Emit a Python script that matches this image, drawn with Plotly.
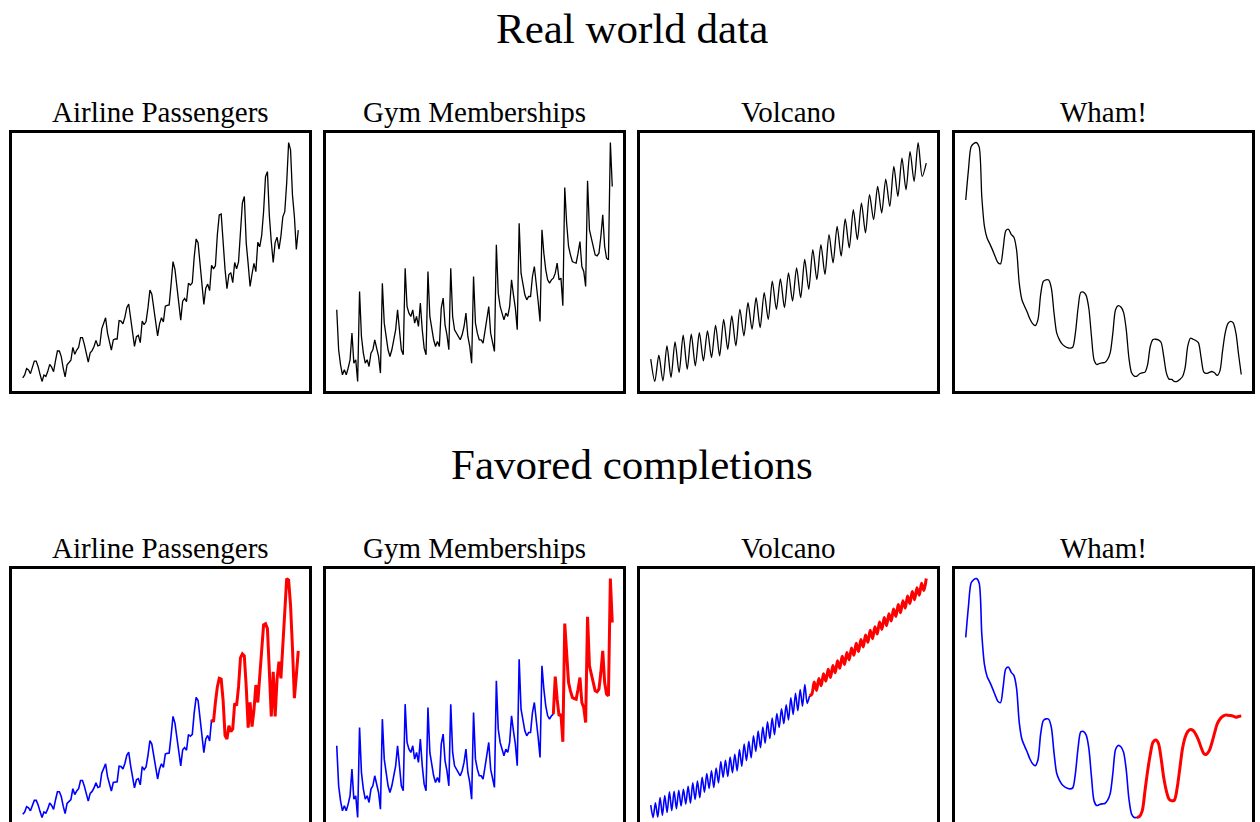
import plotly.graph_objects as go

# ---------------- data ----------------
panel_titles = ["Airline Passengers", "Gym Memberships", "Volcano", "Wham!"]
row_titles = ["Real world data", "Favored completions"]

airline = [112, 118, 132, 129, 121, 135, 148, 148, 136, 119, 104, 118,
           115, 126, 141, 135, 125, 149, 170, 170, 158, 133, 114, 140,
           145, 150, 178, 163, 172, 178, 199, 199, 184, 162, 146, 166,
           171, 180, 193, 181, 183, 218, 230, 242, 209, 191, 172, 194,
           196, 196, 236, 235, 229, 243, 264, 272, 237, 211, 180, 201,
           204, 188, 235, 227, 234, 264, 302, 293, 259, 229, 203, 229,
           242, 233, 267, 269, 270, 315, 364, 347, 312, 274, 237, 278,
           284, 277, 317, 313, 318, 374, 413, 405, 355, 306, 271, 306,
           315, 301, 356, 348, 355, 422, 465, 467, 404, 347, 305, 336,
           340, 318, 362, 348, 363, 435, 491, 505, 404, 359, 310, 337,
           360, 342, 406, 396, 420, 472, 548, 559, 463, 407, 362, 405,
           417, 391, 419, 461, 472, 535, 622, 606, 508, 461, 390, 432]
airline_split = 98
airline_pred = [356, 350, 400, 440, 462, 460, 405, 315, 306, 340, 325, 332,
                398, 392, 440, 515, 525, 520, 440, 335, 400, 338, 380, 445,
                400, 460, 540, 600, 603, 590, 480, 364, 479, 364, 460, 505,
                462, 560, 640, 719, 715, 650, 540, 411, 470, 533]

gym = [23, 11, 6.5, 3.5, 5, 3.5, 5.5, 8, 16, 7, 8, 1.5,
       28.5, 15, 10, 7, 8, 6, 10, 11, 14, 11, 9, 4,
       31, 19, 14.5, 11, 9, 11, 14, 17, 23, 16, 11, 9.5,
       35.5, 24, 22, 21, 23, 19, 21, 18, 25, 17, 11.5, 9.5,
       34.5, 21, 17.5, 14, 12, 13.5, 12, 23.5, 26.5, 18.5, 15.5, 11,
       35.5, 21, 17, 16, 15, 14, 15.5, 18, 22, 15, 12, 7,
       33, 19, 16, 14, 14, 13, 16.5, 20, 24, 16, 13.5, 10.5,
       42.5, 28, 24, 21.5, 20, 22, 21, 24, 32, 27.5, 23.5, 17,
       49, 34, 30.5, 27.5, 26, 27, 27, 33, 36, 29.5, 25.5, 19.5,
       47, 40, 35, 32, 31, 32, 32.5, 34, 37, 32, 32.5, 24.2,
       59.7, 49, 42, 39.5, 37.5, 37.2, 37, 40, 43.5, 36, 34.5, 30,
       61.7, 47, 44.5, 43, 39.5, 39.2, 40, 45, 51.5, 42, 38.5, 38,
       73.2, 60]
gym_split = 114
gym_pred = [32.5, 43.8, 37, 32, 32.5, 24.2,
            59.7, 49, 42, 39.5, 37.5, 37.2, 37, 40, 43.5, 36, 34.5, 30,
            61.7, 47, 44.5, 43, 39.5, 39.2, 40, 45, 51.5, 42, 38.5, 38,
            73.2, 60]

volcano = [338.0, 331.3, 339.2, 331.5, 342.0, 332.5, 343.2, 334.0, 345.2, 335.0,
           345.5, 336.0, 346.0, 337.5, 346.5, 338.5, 348.2, 339.0, 350.0, 341.0,
           351.0, 342.0, 353.0, 345.0, 355.0, 347.0, 356.5, 347.5, 358.0, 350.0,
           361.5, 353.0, 362.2, 353.5, 364.0, 355.5, 365.5, 356.5, 368.0, 359.0,
           371.0, 362.0, 372.5, 363.5, 375.5, 367.0, 378.0, 369.0, 380.2, 371.5,
           383.0, 374.0, 385.0, 376.0, 387.5, 380.0, 390.0, 382.0, 392.2, 384.0,
           396.0, 387.0, 398.5, 389.0, 400.5, 391.5, 403.2, 393.0, 397.0]
volcano_pred = [397.0,
                398.0, 404.5, 400.0, 406.5, 402.5, 409.0, 405.0, 411.5, 407.0, 413.5,
                409.5, 416.0, 412.0, 418.5, 414.0, 420.5, 416.5, 423.0, 419.0, 425.5,
                421.0, 427.5, 423.5, 430.0, 426.0, 432.5, 428.0, 434.5, 430.5, 437.0,
                433.0, 439.5, 435.0, 441.5, 437.5, 444.0, 440.0, 446.5, 442.0, 448.5,
                444.5, 451.0, 447.0, 453.5, 449.0, 455.5, 451.5, 458.0, 454.0, 460.5]

wham = [56.0, 65.0, 72.0, 73.0, 73.3, 72.0, 57.0, 48.0, 44.5, 42.8,
        41.0, 39.0, 37.2, 36.8, 41.5, 46.8, 47.2, 45.7, 44.8, 41.0,
        31.0, 26.0, 24.0, 22.2, 20.2, 18.8, 18.2, 20.0, 27.5, 31.5,
        32.0, 31.9, 29.5, 22.0, 16.0, 14.0, 12.7, 12.0, 11.6, 11.4,
        11.7, 16.0, 23.5, 28.2, 28.3, 27.3, 23.5, 15.0, 7.8, 6.5,
        6.8, 7.0, 7.1, 8.0, 10.0, 16.0, 23.0, 24.2, 23.8, 22.2,
        17.0, 8.5, 4.0, 3.0, 3.0, 3.7, 4.0, 4.2, 6.5, 12.0,
        14.0, 14.1, 13.9, 13.2, 9.0, 4.0, 2.1, 2.0, 1.4, 1.4,
        2.0, 2.8, 5.5, 12.0, 14.4, 14.1, 13.7, 13.0, 8.5, 4.2,
        3.8, 4.1, 4.4, 4.0, 3.2, 4.5, 10.5, 16.0, 18.8, 19.5,
        19.0, 16.0, 9.5, 3.5]
wham_split = 64
wham_pred = [3.0, 3.3, 5.0, 10.8, 16.7, 21.6, 25.1, 25.8, 24.9, 20.6,
             14.8, 10.8, 8.4, 7.9, 8.1, 11.5, 17.2, 23.1, 26.5, 28.3,
             28.9, 28.6, 27.5, 25.8, 23.6, 21.8, 21.6, 22.6, 24.9, 27.8,
             30.5, 31.9, 32.7, 33.1, 33.1, 33.0, 32.8, 32.5, 32.7, 32.9]

# ---------------- layout geometry ----------------
W, H = 1260, 822
COL_X0 = [12, 326, 640, 955]
COL_W = 297
ROW_Y0 = [133, 569]
ROW_H = 258
PAD_X, PAD_Y = 0.039, 0.04
FONT = "Liberation Serif, Times New Roman, serif"

BLACK, BLUE, RED = "#000000", "#0000ff", "#ff0000"

fig = go.Figure()


def idx(start, n):
    return list(range(start, start + n))


real_sets = [
    [(idx(0, len(airline)), airline, BLACK, 1.3, "linear")],
    [(idx(0, len(gym)), gym, BLACK, 1.3, "linear")],
    [(idx(0, len(volcano)), volcano, BLACK, 1.3, "spline")],
    [(idx(0, len(wham)), wham, BLACK, 1.3, "spline")],
]
pred_sets = [
    [(idx(0, airline_split + 1), airline[:airline_split + 1], BLUE, 1.6, "linear"),
     (idx(airline_split, len(airline_pred)), airline_pred, RED, 3.0, "linear")],
    [(idx(0, gym_split + 1), gym[:gym_split + 1], BLUE, 1.6, "linear"),
     (idx(gym_split, len(gym_pred)), gym_pred, RED, 3.0, "linear")],
    [(idx(0, len(volcano)), volcano, BLUE, 1.6, "spline"),
     (idx(len(volcano) - 1, len(volcano_pred)), volcano_pred, RED, 3.0, "spline")],
    [(idx(0, wham_split + 1), wham[:wham_split + 1], BLUE, 1.6, "spline"),
     (idx(wham_split, len(wham_pred)), wham_pred, RED, 3.0, "spline")],
]

annotations = []
for r, sets in enumerate([real_sets, pred_sets]):
    top = ROW_Y0[r]
    bot = min(top + ROW_H, H)
    frac = (bot - top) / ROW_H
    for c in range(4):
        n = r * 4 + c + 1
        xs_all, ys_all = [], []
        for xs, ys, color, lw, shape in sets[c]:
            xs_all += xs
            ys_all += ys
            fig.add_trace(go.Scatter(
                x=xs, y=ys, mode="lines",
                line=dict(color=color, width=lw, shape=shape, smoothing=0.8),
                xaxis="x" if n == 1 else f"x{n}",
                yaxis="y" if n == 1 else f"y{n}",
                hoverinfo="skip", showlegend=False))
        x0, x1 = min(xs_all), max(xs_all)
        y0, y1 = min(ys_all), max(ys_all)
        xr = [x0 - PAD_X * (x1 - x0), x1 + PAD_X * (x1 - x0)]
        lo, hi = y0 - PAD_Y * (y1 - y0), y1 + PAD_Y * (y1 - y0)
        lo = hi - (hi - lo) * frac
        ax = dict(showline=True, mirror=True, linewidth=3, linecolor="black",
                  showticklabels=False, ticks="", showgrid=False, zeroline=False,
                  fixedrange=True)
        xkey = "xaxis" if n == 1 else f"xaxis{n}"
        ykey = "yaxis" if n == 1 else f"yaxis{n}"
        fig.layout[xkey] = dict(ax, domain=[COL_X0[c] / W, (COL_X0[c] + COL_W) / W],
                                range=xr, anchor="y" if n == 1 else f"y{n}")
        fig.layout[ykey] = dict(ax, domain=[1 - bot / H, 1 - top / H],
                                range=[lo, hi], anchor="x" if n == 1 else f"x{n}")
        annotations.append(dict(
            text=panel_titles[c], x=(COL_X0[c] + COL_W / 2) / W, y=1 - (ROW_Y0[r] - 3) / H,
            xref="paper", yref="paper", xanchor="center", yanchor="bottom",
            showarrow=False, font=dict(family=FONT, size=29, color="black")))
    annotations.append(dict(
        text=row_titles[r], x=632 / W, y=1 - (ROW_Y0[r] - 105) / H,
        xref="paper", yref="paper", xanchor="center", yanchor="middle",
        height=40, valign="middle",
        showarrow=False, font=dict(family=FONT, size=43, color="black")))

fig.update_layout(
    width=W, height=H, margin=dict(l=0, r=0, t=0, b=0),
    paper_bgcolor="white", plot_bgcolor="white",
    annotations=annotations, showlegend=False)

# remove the default page margin so the figure fills the window from its corner
fig.write_html("out.html",
               config={"displayModeBar": False, "staticPlot": True},
               post_script="document.body.style.margin='0';"
                           "document.documentElement.style.overflow='hidden';")
